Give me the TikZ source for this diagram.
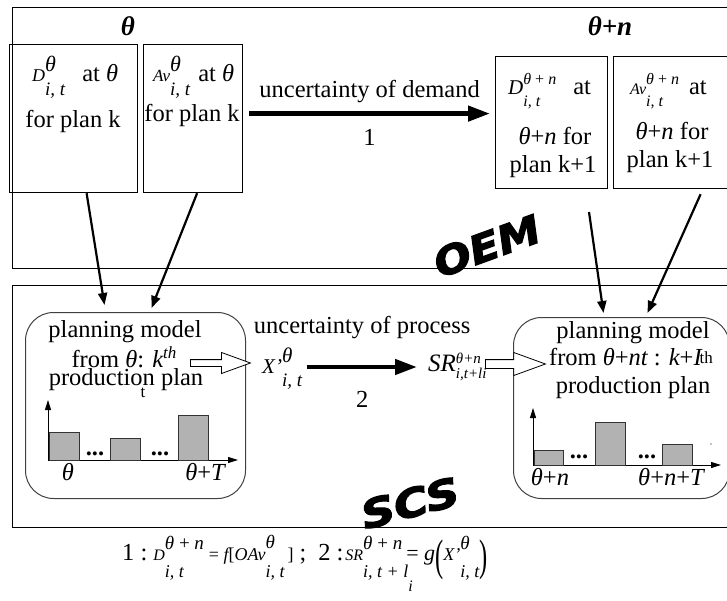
\documentclass[tikz,border=0pt]{standalone}
\usepackage{graphicx}
\usepackage{fontspec}
\setmainfont{Liberation Serif}
\newfontfamily\logofont{DejaVu Sans}[BoldItalicFeatures={FakeBold=3}]
\usetikzlibrary{arrows.meta,positioning,shapes.arrows,calc}

\newcommand{\fsz}[1]{\fontsize{#1}{#1}\selectfont}
% base, superscript, subscript, raise, drop
\newcommand{\supsub}[5]{{#1}\setbox0\hbox{\raisebox{#4}{#2}}\setbox2\hbox{\raisebox{-#5}{#3}}%
  \ifdim\wd0>\wd2 \rlap{\box2}\box0 \else\rlap{\box0}\box2 \fi}

\tikzset{
  frame/.style={draw, line width=1.2pt, anchor=north west, inner sep=0pt},
  infobox/.style={draw, line width=1.2pt, anchor=north west, inner sep=0pt},
  planbox/.style={draw=black!75, line width=1pt, rounded corners=28pt, anchor=north west, inner sep=0pt},
  txt/.style={inner sep=0pt, anchor=base},
  txtw/.style={inner sep=0pt, anchor=base west},
  bigarrow/.style={line width=4.5pt, -{Triangle[length=22pt,width=15pt]}},
  thinarrow/.style={line width=2.2pt, -{Triangle[length=12pt,width=9pt]}},
  axis/.style={line width=1pt, -{Triangle[length=10pt,width=6pt]}},
  bar/.style={draw=black!80, fill=black!30, line width=0.8pt},
  hollowarrow/.style={single arrow, draw, fill=white, line width=0.8pt, single arrow tip angle=40, anchor=tail},
  logo/.style={inner sep=0pt, font=\logofont\bfseries\itshape\fsz{39}},
}

\begin{document}
\begin{tikzpicture}[x=1pt, y=-1pt, font=\fsz{24.5}]
\useasboundingbox (0,0) rectangle (727,601);

% OEM and SCS frames
\node[frame, minimum width=740pt, minimum height=261pt] (oem) at (12,7) {};
\node[frame, minimum width=740pt, minimum height=242pt] (scs) at (12,285) {};

% time labels
\node[txt, font=\bfseries\itshape\fsz{27}] (thetaL) at (128,36) {θ};
\node[txt, font=\bfseries\itshape\fsz{27}] (thetaR) at (610,36) {θ+n};

% demand and availability boxes
\node[infobox, minimum width=128pt, minimum height=148pt] (dOld) at (9,44) {};
\node[infobox, minimum width=99pt, minimum height=148pt] (avOld) at (143,44) {};
\node[infobox, minimum width=112pt, minimum height=132pt] (dNew) at (495,56) {};
\node[infobox, minimum width=130pt, minimum height=132pt] (avNew) at (613,56) {};

\node[txtw] (dOldA) at (32,82) {\supsub{\fsz{18}\itshape D}{\fsz{22}\itshape θ}{\fsz{19}\itshape i, t}{10pt}{14pt}\hspace{17pt}at {\itshape θ}};
\node[txt] (dOldB) at (73,128) {for plan k};
\node[txtw] (avOldA) at (153,82) {\supsub{\fsz{17}\itshape Av}{\fsz{22}\itshape θ}{\fsz{19}\itshape i, t}{10pt}{14pt}\hspace{8pt}at {\itshape θ}};
\node[txt] (avOldB) at (192,122) {for plan k};
\node[txtw] (dNewA) at (508,95) {\supsub{\fsz{21}\itshape D}{\fsz{16}{\itshape θ} + {\itshape n}}{\fsz{16}\itshape i, t}{10pt}{12pt}\hspace{17pt}at};
\node[txt] (dNewB) at (555,145) {{\itshape θ}+{\itshape n} for};
\node[txt] (dNewC) at (553,173) {plan k+1};
\node[txtw] (avNewA) at (630,95) {\supsub{\fsz{16}\itshape Av}{\fsz{16}{\itshape θ} + {\itshape n}}{\fsz{16}\itshape i, t}{10pt}{12pt}\hspace{10pt}at};
\node[txt] (avNewB) at (672,140) {{\itshape θ}+{\itshape n} for};
\node[txt] (avNewC) at (670,168) {plan k+1};

% uncertainty of demand
\draw[bigarrow] ($(avOld.east)+(6,-5)$) -- node[txt, yshift=16pt] (uncD) {uncertainty of demand}
  node[txt, yshift=-32pt] (oneD) {1} ($(dNew.west)+(-5,-9)$);

\node[logo, rotate=20] (oemlogo) at (487,246) {\scalebox{1.12}[1]{OEM}};

% planning models
\node[planbox, minimum width=220pt, minimum height=186pt] (planOld) at (25,312) {};
\node[planbox, minimum width=216pt, minimum height=181pt] (planNew) at (513,317) {};

\draw[thinarrow] ([xshift=13pt]dOld.south) -- ([xshift=-31pt,yshift=7pt]planOld.north);
\draw[thinarrow] ([xshift=4pt]avOld.south) -- ([xshift=16pt,yshift=4pt]planOld.north);
\coordinate (gapNew) at (589,212);
\draw[thinarrow] (gapNew) -- ([xshift=-18pt,yshift=4pt]planNew.north);
\draw[thinarrow] ([xshift=22pt,yshift=-5pt]avNew.south) -- ([xshift=26pt,yshift=4pt]planNew.north);

\node[txt] (planOldA) at (125,337) {planning model};
\node[txt] (planOldB) at (124,367) {from {\itshape θ}: {\itshape k}\raisebox{9pt}{\fsz{17}\itshape th}};
\node[txt] (planOldC) at (126,385) {production plan};
\node[txt, font=\fsz{17}] (planOldT) at (143,397) {t};

\node[txt] (planNewA) at (633,338) {planning model};
\node[txt] (planNewB) at (631,365) {from {\itshape θ}+{\itshape nt} : {\itshape k}+{\itshape I}\kern-2pt\raisebox{2pt}{\fsz{17}th}};
\node[txt] (planNewC) at (633,393) {production plan};

% bar chart of plan k
\draw[axis] (48,460) -- (48,400);
\draw[axis] (48,460) -- (238,460);
\draw[bar] (49,432) rectangle (79,460);
\draw[bar] (110,438) rectangle (140,460);
\draw[bar] (178,415) rectangle (208,460);
\node[txt, font=\bfseries\fsz{24.5}] (dotsOldA) at (95,455) {...};
\node[txt, font=\bfseries\fsz{24.5}] (dotsOldB) at (160,455) {...};
\node[txt] (tOldA) at (68,480) {\itshape θ};
\node[txt] (tOldB) at (205,480) {{\itshape θ}+{\itshape T}};

% bar chart of plan k+1
\draw[axis] (533,465) -- (533,408);
\draw[axis] (533,465) -- (721,465);
\draw[bar] (534,450) rectangle (563,465);
\draw[bar] (595,422) rectangle (625,465);
\draw[bar] (662,444) rectangle (692,465);
\node[txt, font=\bfseries\fsz{24.5}] (dotsNewA) at (579,458) {...};
\node[txt, font=\bfseries\fsz{24.5}] (dotsNewB) at (647,458) {...};
\node[txt] (tNewA) at (550,485) {{\itshape θ}+{\itshape n}};
\node[txt] (tNewB) at (671,485) {{\itshape θ}+{\itshape n}+{\itshape T}};
\fill (711,444) circle (0.6pt);

% uncertainty of process
\node[hollowarrow, minimum height=60pt, minimum width=14pt, inner sep=3pt] (harrOld) at (190,363) {};
\node[txtw] (xp) at (262,373) {\supsub{\fsz{21}\itshape X'}{\fsz{21}\itshape θ}{\fsz{19}\itshape i, t}{11pt}{13pt}};
\node[txtw] (sr) at (428,371) {\supsub{\fsz{25}\itshape SR}{\fsz{15}\itshape θ+n}{\fsz{15}\itshape i,t+li}{8pt}{7pt}};
\node[hollowarrow, minimum height=60pt, minimum width=18pt, inner sep=4pt] (harrNew) at (485,364) {};
\coordinate (procA) at ([xshift=5pt]xp.east |- harrOld.tail);
\coordinate (procB) at ([xshift=-11pt]sr.west |- harrOld.tail);
\draw[bigarrow] ([yshift=-4pt]procA) -- node[txt, yshift=34pt] (uncP) {uncertainty of process}
  node[txt, yshift=-40pt] (twoP) {2} ([yshift=-4pt]procB);

\node[logo, rotate=15] (scslogo) at (410,503) {\scalebox{1.2}[1]{SCS}};

% relations 1 and 2
\node[txtw] (formula) at (122,560) {1 :\hspace{6pt}%
  \supsub{\fsz{16}\itshape D}{\fsz{19}{\itshape θ} + {\itshape n}}{\fsz{18}\itshape i, t}{11pt}{17pt}%
  \hspace{5pt}{\fsz{18}= {\itshape f}[{\itshape OAv}}%
  \supsub{}{\fsz{19}\itshape θ}{\fsz{18}\itshape i, t}{12pt}{17pt}%
  {\fsz{18}\,]}\fsz{24}\ ;\hspace{12pt}\fsz{24.5}2 :\hspace{2pt}%
  {\fsz{16}\itshape SR}\rlap{\raisebox{-17pt}{\fsz{18}\itshape i, t + l}\raisebox{-31pt}{\fsz{16}\itshape i}}%
  \raisebox{11pt}{\fsz{19}{\itshape θ} + {\itshape n}}%
  \hspace{4pt}{\fsz{22}= {\itshape g}}\raisebox{-10pt}{\scalebox{1}[1.8]{(}}%
  \supsub{\fsz{18}\itshape X'}{\fsz{19}\itshape θ}{\fsz{18}\itshape i, t}{11pt}{17pt}%
  \raisebox{-10pt}{\scalebox{1}[1.8]{)}}};
\end{tikzpicture}
\end{document}
